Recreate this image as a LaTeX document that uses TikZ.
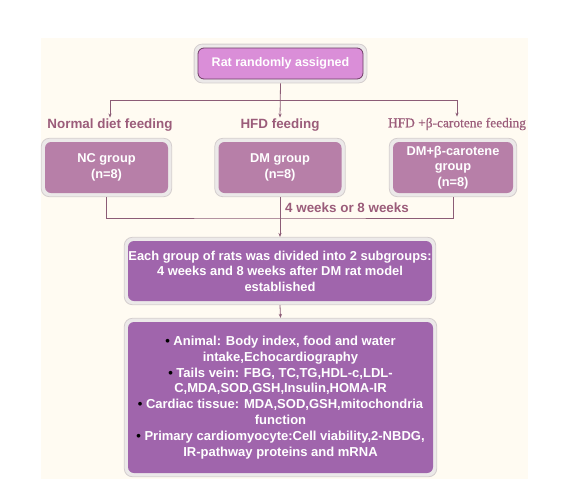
\documentclass[tikz,border=0pt]{standalone}
\usepackage{fontspec}
\setmainfont{Liberation Sans}
\newfontfamily\serifF[FakeBold=0.6]{Liberation Serif}
\usetikzlibrary{fit,backgrounds,arrows.meta}
\definecolor{bgc}{RGB}{255,251,242}
\definecolor{pinkF}{RGB}{218,142,216}
\definecolor{pinkD}{RGB}{110,60,100}
\definecolor{mauve}{RGB}{183,127,168}
\definecolor{purp}{RGB}{160,101,172}
\definecolor{frameF}{RGB}{236,233,233}
\definecolor{frameD}{RGB}{212,206,206}
\definecolor{lineC}{RGB}{140,92,118}
\definecolor{labC}{RGB}{155,92,122}
\newcommand{\bul}{\textcolor{black}{•}}
\begin{document}
\begin{tikzpicture}[x=1pt,y=-1pt,
  box/.style={rounded corners=6pt, text=white, align=center, inner sep=0pt,
    font=\fontsize{12.8}{15.5}\selectfont\bfseries},
  frame/.style={draw=frameD, fill=frameF, rounded corners=8pt, inner sep=3.5pt, line width=0.8pt},
  lab/.style={text=labC, font=\fontsize{13.4}{15}\selectfont\bfseries, inner sep=1pt},
  conn/.style={draw=lineC, line width=0.8pt},
  arr/.style={conn, -{Stealth[length=4pt,width=3.2pt]}}
]
\useasboundingbox (0,0) rectangle (575,490);
\node[box, fill=pinkF, draw=pinkD, line width=0.8pt, minimum width=165pt, minimum height=31pt, font=\fontsize{12.5}{15}\selectfont\bfseries] (top) at (280.5,63.5) {Rat randomly assigned};
\node[box, fill=mauve, minimum width=123pt, minimum height=51pt] (nc) at (106.5,167.5) {NC group\\(n=8)};
\node[box, fill=mauve, minimum width=123pt, minimum height=51pt] (dm) at (280,167.5) {DM group\\(n=8)};
\node[box, fill=mauve, minimum width=120pt, minimum height=51pt] (dmb) at (453,167.5) {DM+β-carotene\\group\\(n=8)};
\node[box, fill=purp, minimum width=304pt, minimum height=60pt, font=\fontsize{12.9}{15.5}\selectfont\bfseries] (each) at (280,271) {Each group of rats was divided into 2 subgroups:\\4 weeks and 8 weeks after DM rat model\\established};
\node[box, fill=purp, minimum width=305pt, minimum height=151pt, font=\fontsize{13}{15.8}\selectfont\bfseries] (fin) at (280.5,397.5) {\bul\ Animal: Body index, food and water\\intake,Echocardiography\\\bul\ Tails vein: FBG, TC,TG,HDL-c,LDL-\\C,MDA,SOD,GSH,Insulin,HOMA-IR\\\bul\ Cardiac tissue: MDA,SOD,GSH,mitochondria\\function\\\bul\ Primary cardiomyocyte:Cell viability,2-NBDG,\\IR-pathway proteins and mRNA};
\begin{scope}[on background layer]
  \fill[bgc] (41,38) rectangle (528,479);
  \node[frame, fit=(top)] (topF) {};
  \node[frame, fit=(nc)] (ncF) {};
  \node[frame, fit=(dm)] (dmF) {};
  \node[frame, fit=(dmb)] (dmbF) {};
  \node[frame, fit=(each)] (eachF) {};
  \node[frame, fit=(fin)] (finF) {};
\end{scope}
\node[lab] (l1) at (110,125) {Normal diet feeding};
\node[lab] (l2) at (280,125) {HFD feeding};
\node[lab, font=\serifF\fontsize{13.4}{15}\selectfont] (l3) at (457,124) {HFD +β-carotene feeding};
\node[lab, anchor=west] (wk) at (284,208) {4 weeks or 8 weeks};
\coordinate (jl) at (110,100);
\coordinate (jr) at (457,100);
\coordinate (jb) at (280,218);
\draw[conn] (jl) -- (jr);
\draw[arr] (topF.south) -- (l2.north);
\draw[arr] (jl) -- (l1.north);
\draw[arr] (jr) -- (l3.north);
\draw[conn] (ncF.south) |- (jb) -| (dmbF.south);
\draw[arr] (dmF.south) -- (eachF.north);
\draw[arr] (eachF.south) -- (finF.north);
\end{tikzpicture}
\end{document}
